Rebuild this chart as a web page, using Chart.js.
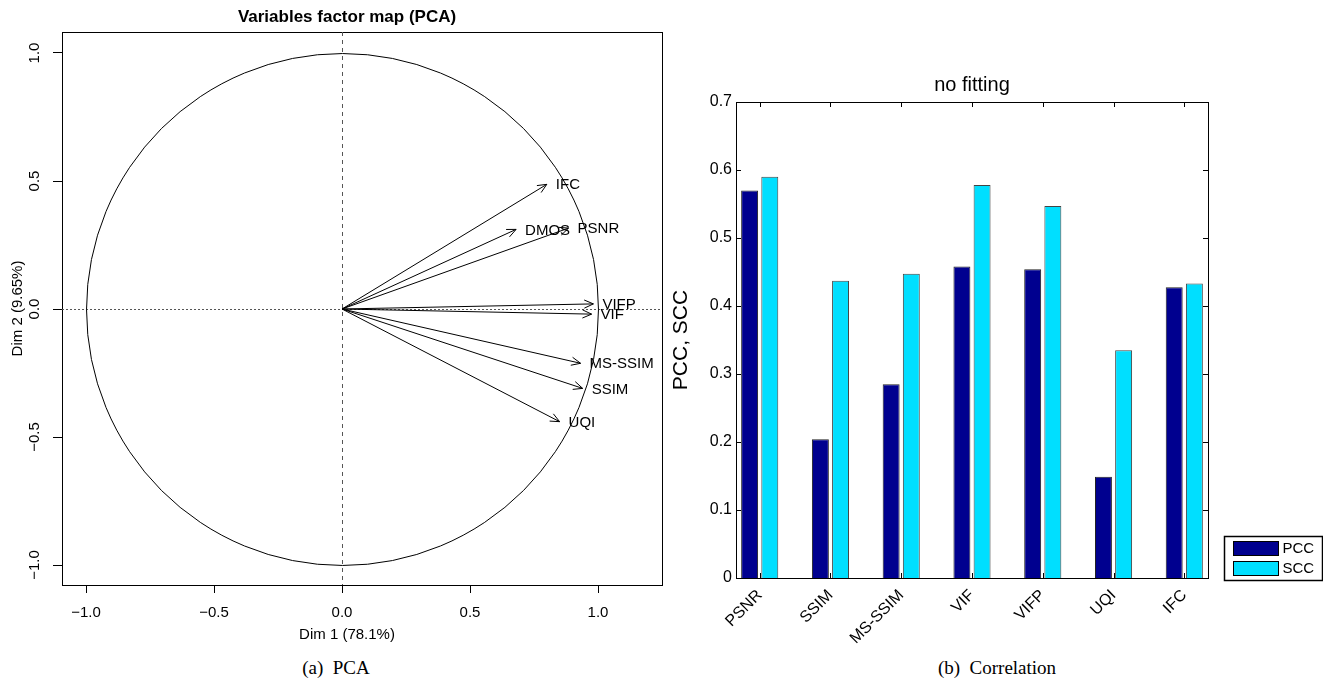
<!DOCTYPE html>
<html>
<head>
<meta charset="utf-8">
<script src="https://cdn.jsdelivr.net/npm/chart.js@4.4.0/dist/chart.umd.min.js"></script>
<style>
  body { margin: 0; background: #fff; width: 1323px; height: 683px; overflow: hidden; position: relative; }
  canvas { position: absolute; top: 0; }
  #pca { left: 0; }
  #corr { left: 660px; }
  .cap { position: absolute; top: 658px; line-height: 20px; font-family: 'Liberation Serif', 'Times New Roman', serif;
         font-size: 19px; transform: translateX(-50%); white-space: pre; color: #000; }
</style>
</head>
<body>
<canvas id="pca" width="694" height="650"></canvas>
<canvas id="corr" width="663" height="650"></canvas>
<div class="cap" style="left:336px">(a)  PCA</div>
<div class="cap" style="left:997px">(b)  Correlation</div>
<script>
// left panel: variables factor map (PCA)
const varNames = ['IFC', 'DMOS', 'PSNR', 'VIFP', 'VIF', 'MS-SSIM', 'SSIM', 'UQI'];
const dim1 = [0.80, 0.68, 0.885, 0.982, 0.975, 0.932, 0.94, 0.85];
const dim2 = [0.487, 0.311, 0.316, 0.02, -0.02, -0.212, -0.31, -0.44];
const pcaTicks = [-1, -0.5, 0, 0.5, 1];

// right panel: correlation, no fitting
const metrics = ['PSNR', 'SSIM', 'MS-SSIM', 'VIF', 'VIFP', 'UQI', 'IFC'];
const pcc = [0.570, 0.204, 0.285, 0.458, 0.454, 0.149, 0.4275];
const scc = [0.590, 0.437, 0.4475, 0.578, 0.547, 0.335, 0.433];
const corrTicks = [0, 0.1, 0.2, 0.3, 0.4, 0.5, 0.6, 0.7];

const sans = "'Liberation Sans', Arial, Helvetica, sans-serif";
Chart.defaults.font.family = sans;
Chart.defaults.color = '#000';

function rfmt(v) {
  return v.toFixed(1).replace('-', '\u2212');
}

// circle, reference lines, arrow heads and labels, all placed through the scales
const circlePlugin = {
  id: 'circle',
  beforeDatasetsDraw(chart) {
    const {ctx, chartArea: a, scales: {x, y}} = chart;
    const x0 = Math.round(x.getPixelForValue(0)) + 0.5;
    const y0 = Math.round(y.getPixelForValue(0)) + 0.5;
    ctx.save();
    ctx.lineWidth = 1;
    ctx.strokeStyle = '#000';
    ctx.strokeRect(a.left + 0.5, a.top + 0.5, a.right - a.left, a.bottom - a.top);
    ctx.strokeStyle = '#555';
    ctx.setLineDash([4, 4]);
    ctx.beginPath(); ctx.moveTo(x0, a.top); ctx.lineTo(x0, a.bottom); ctx.stroke();
    ctx.setLineDash([2, 2]);
    ctx.beginPath(); ctx.moveTo(a.left, y0); ctx.lineTo(a.right, y0); ctx.stroke();
    ctx.setLineDash([]);
    ctx.strokeStyle = '#000';
    ctx.beginPath();
    ctx.arc(x0, y0, x.getPixelForValue(1) - x.getPixelForValue(0), 0, 2 * Math.PI);
    ctx.stroke();
    ctx.restore();
  },
  afterDatasetsDraw(chart) {
    const {ctx, scales: {x, y}} = chart;
    const x0 = x.getPixelForValue(0), y0 = y.getPixelForValue(0);
    ctx.save();
    ctx.strokeStyle = '#000';
    ctx.lineWidth = 1;
    ctx.fillStyle = '#000';
    ctx.font = '15px ' + sans;
    ctx.textAlign = 'left';
    ctx.textBaseline = 'middle';
    varNames.forEach((name, i) => {
      const px = x.getPixelForValue(dim1[i]), py = y.getPixelForValue(dim2[i]);
      const ang = Math.atan2(py - y0, px - x0);
      ctx.beginPath();
      for (const s of [-1, 1]) {
        ctx.moveTo(px, py);
        ctx.lineTo(px - 10 * Math.cos(ang + s * 0.42), py - 10 * Math.sin(ang + s * 0.42));
      }
      ctx.stroke();
      ctx.fillText(name, px + 9, py + 1);
    });
    ctx.restore();
  }
};

new Chart(document.getElementById('pca'), {
  type: 'scatter',
  data: {
    datasets: varNames.map((name, i) => ({
      label: name,
      data: [{x: 0, y: 0}, {x: dim1[i], y: dim2[i]}],
      showLine: true,
      borderColor: '#000',
      borderWidth: 1,
      pointRadius: 0,
    }))
  },
  options: {
    responsive: false,
    animation: false,
    devicePixelRatio: 1,
    layout: {padding: 0},
    plugins: {
      legend: {display: false},
      tooltip: {enabled: false},
      title: {display: true, text: 'Variables factor map (PCA)', color: '#000',
              font: {size: 17, weight: 'bold'}, padding: {top: 6.8, bottom: 4.8}},
      subtitle: {display: true, position: 'bottom', text: 'Dim 1 (78.1%)', color: '#000',
                 font: {size: 15}, padding: {top: 0, bottom: 6}},
    },
    scales: {
      x: {
        type: 'linear', min: -1.094, max: 1.25, position: 'bottom',
        afterBuildTicks: s => { s.ticks = pcaTicks.map(v => ({value: v})); },
        afterFit: s => { s.height = 41; },
        grid: {drawOnChartArea: false, drawTicks: true, tickLength: 8, color: '#000'},
        border: {display: false},
        ticks: {font: {size: 15}, color: '#000', padding: 11, callback: v => rfmt(v)},
      },
      y: {
        type: 'linear', min: -1.078, max: 1.082, position: 'left',
        afterBuildTicks: s => { s.ticks = pcaTicks.map(v => ({value: v})); },
        afterFit: s => { s.width = 62; },
        grid: {drawOnChartArea: false, drawTicks: true, tickLength: 9, color: '#000'},
        border: {display: false},
        ticks: {font: {size: 15}, color: '#000', padding: 3, minRotation: 90, maxRotation: 90,
                crossAlign: 'center', callback: v => rfmt(v)},
        title: {display: true, text: 'Dim 2 (9.65%)', color: '#000', font: {size: 15}, padding: {top: 9, bottom: 0}},
      },
      yPad: {
        type: 'linear', position: 'right', display: true,
        afterFit: s => { s.width = 32; },
        grid: {display: false}, border: {display: false}, ticks: {display: false},
      }
    }
  },
  plugins: [circlePlugin]
});

// MATLAB style box with inner ticks and a framed legend
const framePlugin = {
  id: 'frame',
  afterDraw(chart) {
    const {ctx, chartArea: a, scales: {x, y}} = chart;
    ctx.save();
    ctx.strokeStyle = '#000';
    ctx.lineWidth = 1;
    ctx.strokeRect(a.left + 0.5, a.top + 0.5, a.right - a.left, a.bottom - a.top);
    ctx.beginPath();
    corrTicks.forEach(v => {
      const py = Math.round(y.getPixelForValue(v)) + 0.5;
      ctx.moveTo(a.left, py); ctx.lineTo(a.left + 5, py);
      ctx.moveTo(a.right, py); ctx.lineTo(a.right - 5, py);
    });
    metrics.forEach((m, i) => {
      const px = Math.round(x.getPixelForValue(i + 1)) + 0.5;
      ctx.moveTo(px, a.top); ctx.lineTo(px, a.top + 5);
      ctx.moveTo(px, a.bottom); ctx.lineTo(px, a.bottom - 5);
    });
    ctx.stroke();

    // legend
    const lx = a.right + 16.5, ly = a.bottom - 41.5;
    ctx.lineWidth = 1.5;
    ctx.strokeRect(lx, ly, 98, 44);
    ctx.lineWidth = 1;
    ctx.font = '15px ' + sans;
    ctx.textAlign = 'left';
    ctx.textBaseline = 'middle';
    chart.data.datasets.forEach((ds, i) => {
      const ry = ly + 5 + i * 20;
      ctx.fillStyle = ds.backgroundColor;
      ctx.fillRect(lx + 9, ry, 45, 14);
      ctx.strokeStyle = '#000';
      ctx.strokeRect(lx + 9, ry, 45, 14);
      ctx.fillStyle = '#000';
      ctx.fillText(ds.label, lx + 58, ry + 7.5);
    });
    ctx.restore();
  }
};

new Chart(document.getElementById('corr'), {
  type: 'bar',
  data: {
    datasets: [
      {label: 'PCC', data: pcc.map((v, i) => ({x: i + 1, y: v})),
       backgroundColor: '#00008f', borderColor: '#222', borderWidth: 1},
      {label: 'SCC', data: scc.map((v, i) => ({x: i + 1, y: v})),
       backgroundColor: '#00dfff', borderColor: '#444', borderWidth: 1},
    ]
  },
  options: {
    responsive: false,
    animation: false,
    devicePixelRatio: 1,
    categoryPercentage: 0.57,
    barPercentage: 0.84,
    layout: {padding: {left: 0, right: 115, top: 0, bottom: 0}},
    plugins: {
      legend: {display: false},
      tooltip: {enabled: false},
      title: {display: true, text: 'no fitting', fullSize: false, color: '#000',
              font: {size: 20, weight: 'normal'}, padding: {top: 73, bottom: 5}},
    },
    scales: {
      x: {
        type: 'linear', min: 0.665, max: 7.335, offset: false,
        afterBuildTicks: s => { s.ticks = metrics.map((m, i) => ({value: i + 1})); },
        afterFit: s => { s.height = 72; },
        grid: {display: false, drawTicks: false},
        border: {display: false},
        ticks: {autoSkip: false, minRotation: 45, maxRotation: 45, padding: 8,
                font: {size: 16}, color: '#000', callback: v => metrics[v - 1]},
      },
      y: {
        min: 0, max: 0.7,
        afterBuildTicks: s => { s.ticks = corrTicks.map(v => ({value: v})); },
        afterFit: s => { s.width = 76; },
        grid: {display: false, drawTicks: false},
        border: {display: false},
        ticks: {font: {size: 16}, color: '#000', padding: 4,
                callback: v => (v === 0 ? '0' : v.toFixed(1))},
        title: {display: true, text: 'PCC, SCC', color: '#000', font: {size: 21}, padding: {top: 8.4, bottom: 0}},
      }
    }
  },
  plugins: [framePlugin]
});
</script>
</body>
</html>
